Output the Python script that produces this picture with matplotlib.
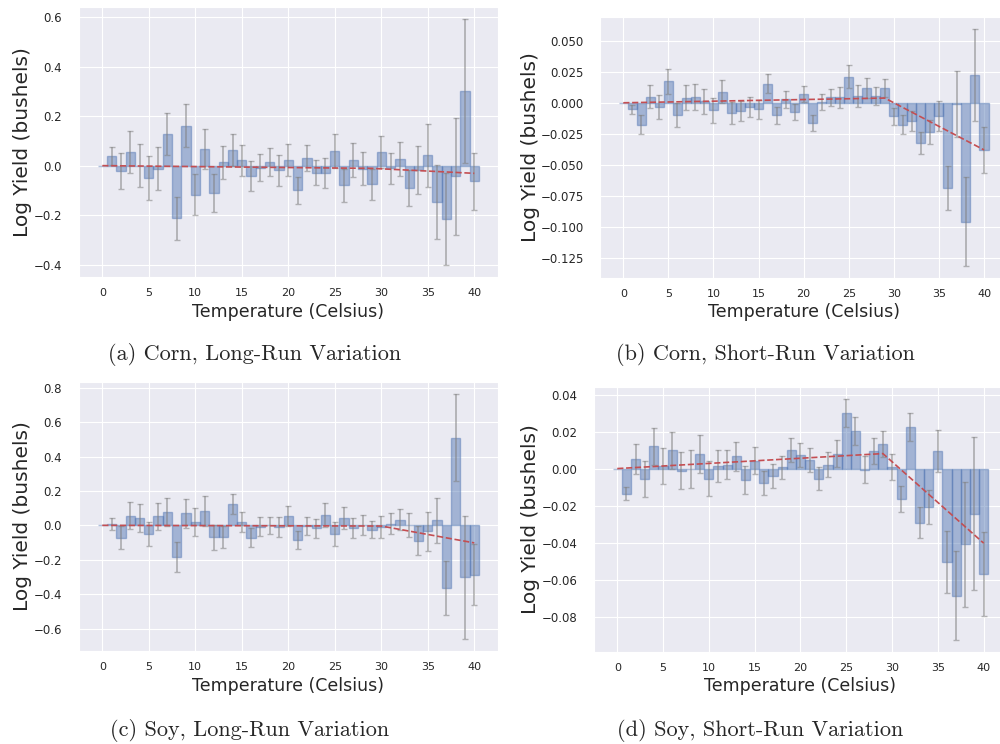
import numpy as np
import matplotlib
matplotlib.use("Agg")
import matplotlib.pyplot as plt
import seaborn as sns

sns.set_style("darkgrid")

# temperature bins (Celsius); bin 0 is the baseline
temps = np.arange(0, 41)

# (a) corn, long-run variation
corn_long = [0.0,
             0.039, -0.020, 0.055, 0.000, -0.051, -0.013, 0.128, -0.213, 0.162, -0.117,
             0.067, -0.111, 0.013, 0.062, 0.021, -0.042, -0.008, 0.015, -0.019, 0.024,
             -0.100, 0.030, -0.028, -0.031, 0.059, -0.080, 0.024, -0.012, -0.075, 0.056,
             -0.011, 0.028, -0.089, -0.017, 0.042, -0.148, -0.215, -0.043, 0.301, -0.064]
corn_long_err = [0.035, 0.073, 0.085, 0.086, 0.088, 0.087, 0.086, 0.087, 0.086, 0.084,
                 0.079, 0.077, 0.068, 0.064, 0.064, 0.059, 0.056, 0.056, 0.063, 0.064,
                 0.056, 0.052, 0.050, 0.060, 0.068, 0.066, 0.068, 0.067, 0.062, 0.064,
                 0.064, 0.068, 0.072, 0.096, 0.128, 0.150, 0.185, 0.237, 0.290, 0.117]
corn_long_trend = [0.0, -0.011, -0.031]

# (b) corn, short-run variation
corn_short = [0.0,
              -0.0053, -0.0177, 0.0048, -0.0032, 0.0175, -0.0097, 0.0040, 0.0048, 0.0013, -0.0062,
              0.0091, -0.0081, -0.0067, -0.0035, -0.0054, 0.0153, -0.0100, 0.0027, -0.0073, 0.0070,
              -0.0164, 0.0008, 0.0043, 0.0043, 0.0212, 0.0056, 0.0116, 0.0054, 0.0121, -0.0110,
              -0.0177, -0.0148, -0.0325, -0.0234, -0.0105, -0.0688, -0.0011, -0.0960, 0.0226, -0.0380]
corn_short_err = [0.0035, 0.0075, 0.0094, 0.0098, 0.0101, 0.0097, 0.0100, 0.0104, 0.0100, 0.0099,
                  0.0094, 0.0089, 0.0083, 0.0078, 0.0075, 0.0077, 0.0069, 0.0066, 0.0066, 0.0065,
                  0.0063, 0.0063, 0.0070, 0.0083, 0.0094, 0.0086, 0.0081, 0.0075, 0.0074, 0.0070,
                  0.0075, 0.0082, 0.0089, 0.0097, 0.0120, 0.0176, 0.0266, 0.0358, 0.0370, 0.0187]
corn_short_trend = [0.0, 0.0038, -0.038]

# (c) soy, long-run variation
soy_long = [0.0,
            0.008, -0.071, 0.056, 0.044, -0.050, 0.052, 0.077, -0.183, 0.070, 0.021,
            0.083, -0.069, -0.066, 0.122, 0.021, -0.071, -0.007, 0.001, -0.010, 0.054,
            -0.083, -0.004, -0.017, 0.060, -0.050, 0.042, -0.015, 0.001, -0.025, -0.010,
            0.010, 0.033, 0.004, -0.089, -0.035, 0.029, -0.363, 0.510, -0.301, -0.286]
soy_long_err = [0.034, 0.067, 0.078, 0.081, 0.072, 0.077, 0.081, 0.089, 0.084, 0.081,
                0.086, 0.072, 0.064, 0.058, 0.059, 0.054, 0.053, 0.049, 0.056, 0.059,
                0.053, 0.050, 0.056, 0.071, 0.071, 0.063, 0.060, 0.057, 0.051, 0.062,
                0.063, 0.062, 0.070, 0.084, 0.114, 0.132, 0.155, 0.252, 0.358, 0.175]
soy_long_trend = [0.0, -0.004, -0.102]

# (d) soy, short-run variation
soy_short = [0.0,
             -0.0135, 0.0054, -0.0056, 0.0120, 0.0014, 0.0099, -0.0011, -0.0002, 0.0077, -0.0054,
             0.0014, 0.0020, 0.0066, -0.0061, 0.0041, -0.0077, -0.0040, 0.0007, 0.0099, 0.0074,
             0.0045, -0.0054, 0.0022, 0.0081, 0.0300, 0.0203, -0.0005, 0.0095, 0.0135, 0.0009,
             -0.0165, 0.0225, -0.0293, -0.0210, 0.0095, -0.0505, -0.0686, -0.0410, -0.0244, -0.0570]
soy_short_err = [0.0035, 0.0081, 0.0096, 0.0099, 0.0099, 0.0099, 0.0100, 0.0102, 0.0102, 0.0096,
                 0.0085, 0.0079, 0.0077, 0.0075, 0.0073, 0.0066, 0.0063, 0.0063, 0.0064, 0.0065,
                 0.0064, 0.0064, 0.0065, 0.0072, 0.0076, 0.0078, 0.0074, 0.0070, 0.0070, 0.0072,
                 0.0072, 0.0075, 0.0083, 0.0092, 0.0116, 0.0165, 0.0240, 0.0340, 0.0412, 0.0226]
soy_short_trend = [0.0, 0.0081, -0.0403]

trend_x = [0, 29, 40]
soy_long_trend_x = [0, 30, 40]

captions = ["(a) Corn, Long-Run Variation", "(b) Corn, Short-Run Variation",
            "(c) Soy, Long-Run Variation", "(d) Soy, Short-Run Variation"]

BLUE = "#4C72B0"
RED = "#C44E52"


def yieldPanel(fig, rect, values, errors, tx, ty, ylab_x):
    """ Bar chart of binned temperature effects with error bars
    and the piecewise linear fit on top """
    ax = fig.add_axes(rect)
    ax.bar(temps, values, width=1.0, color=BLUE, edgecolor=BLUE,
           linewidth=1.0, alpha=0.45)
    ax.errorbar(temps[1:], values[1:], yerr=errors, fmt="none",
                ecolor="gray", elinewidth=1.3, capsize=2, alpha=0.55)
    ax.plot(tx, ty, color=RED, linestyle="--", linewidth=1.2)
    ax.set_xticks(range(0, 41, 5))
    ax.tick_params(axis="x", labelsize=8, pad=4.5, colors=".15")
    ax.tick_params(axis="y", labelsize=8.5, pad=8.5, colors=".15")
    ax.set_xlabel("Temperature (Celsius)", fontsize=12.5, color=".15")
    ax.set_ylabel("Log Yield (bushels)", fontsize=14.5, color=".15")
    ax.xaxis.set_label_coords(0.5, -0.095)
    ax.yaxis.set_label_coords(ylab_x, 0.5)
    return ax


fig = plt.figure(figsize=(10, 7.44), dpi=100)

yieldPanel(fig, [0.0786, 0.6277, 0.4194, 0.3629], corn_long, corn_long_err,
           trend_x, corn_long_trend, -0.111)
yieldPanel(fig, [0.6003, 0.6263, 0.4067, 0.3508], corn_short, corn_short_err,
           trend_x, corn_short_trend, -0.148)
yieldPanel(fig, [0.0786, 0.1250, 0.4194, 0.3616], soy_long, soy_long_err,
           soy_long_trend_x, soy_long_trend, -0.111)
yieldPanel(fig, [0.5939, 0.1237, 0.4131, 0.3562], soy_short, soy_short_err,
           trend_x, soy_short_trend, -0.130)

# subfigure captions
cap_pos = [(255, 355), (765, 355), (250, 730), (760, 730)]
for text, (px, py) in zip(captions, cap_pos):
    fig.text(px / 1000, 1 - py / 744, text, family="cmr10", fontsize=16,
             ha="center", va="center")

fig.savefig("out.png", dpi=100)
